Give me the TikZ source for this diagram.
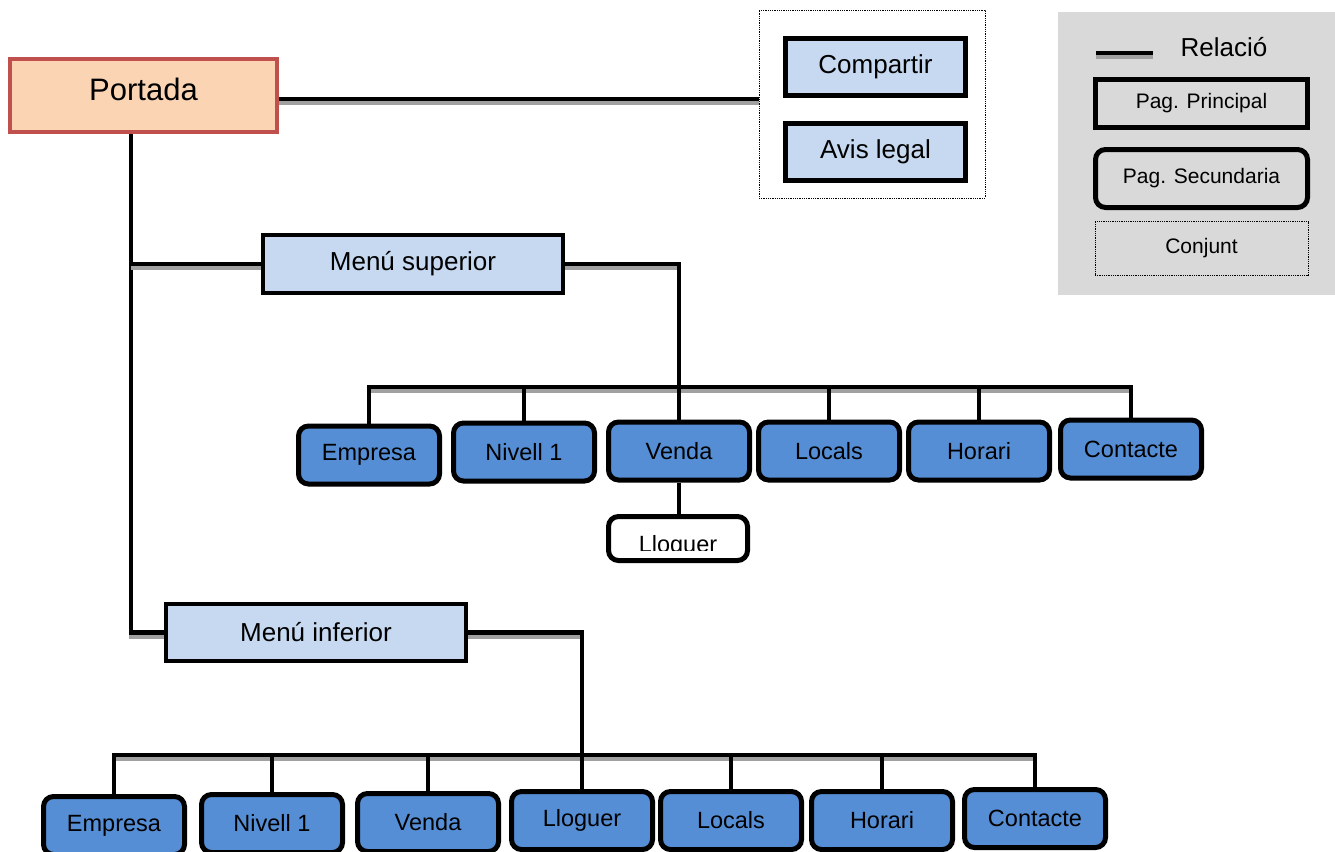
\documentclass[tikz,border=0pt]{standalone}
\usepackage{fontspec}
\setmainfont{Liberation Sans}
\usetikzlibrary{backgrounds}
\definecolor{peach}{HTML}{FBD4B4}
\definecolor{portadared}{HTML}{C0504D}
\definecolor{paleblue}{HTML}{C6D9F1}
\definecolor{midblue}{HTML}{558ED5}
\definecolor{legendgray}{HTML}{D9D9D9}
\definecolor{shadowgray}{HTML}{A0A0A0}
\newcommand{\fsz}[1]{\fontsize{#1pt}{#1pt}\selectfont}

\begin{document}
\begin{tikzpicture}[x=1pt,y=-1pt,
  rel/.style={draw=black, line width=4.5pt,
    preaction={draw=shadowgray, line width=4pt, transform canvas={yshift=-4pt}}},
  pagebox/.style={draw=black, line width=4.5pt, fill=paleblue, inner sep=0pt, font=\fsz{26}},
  subbox/.style={draw=black, line width=5pt, rounded corners=10pt, fill=midblue,
    minimum width=141pt, minimum height=58pt, inner sep=0pt, font=\fsz{23.5}},
  groupbox/.style={draw=black, densely dotted, line width=0.8pt, fill=white, inner sep=0pt},
]
\useasboundingbox (0,0) rectangle (1335,851);
\clip (0,0) rectangle (1335,851);

% legend panel
\node[fill=legendgray, minimum width=277pt, minimum height=283pt, inner sep=0pt] (legend) at (1196.5,153.5) {};
\coordinate (relA) at (1096,53);
\coordinate (relB) at (1153,53);
\draw[rel] (relA) -- (relB);
\node[font=\fsz{26}, inner sep=0pt] (reltext) at (1224,47) {Relació};
\node[draw=black, line width=4.5pt, minimum width=212pt, minimum height=48pt, inner sep=0pt,
  font=\fsz{21}] (lprin) at (1201.5,103.5) {Pag. Principal};
\node[draw=black, line width=5pt, rounded corners=10pt, minimum width=212pt, minimum height=58pt,
  inner sep=0pt, font=\fsz{21}] (lsec) at (1201.5,178.5) {Pag. Secundaria};
\node[draw=black, densely dotted, line width=0.8pt, minimum width=213pt, minimum height=54pt,
  inner sep=0pt, font=\fsz{21}] (lconj) at (1201.5,248.5) {Conjunt};

% home page
\node[draw=portadared, line width=4pt, fill=peach, minimum width=267pt, minimum height=73pt,
  inner sep=0pt, text depth=12pt, font=\fsz{31}] (portada) at (143.5,95.5) {Portada};

% shared pages group
\node[groupbox, minimum width=226pt, minimum height=188pt] (conj) at (872,104) {};
\node[pagebox, line width=5pt, minimum width=180pt, minimum height=57pt] (comp) at (875.5,67) {Compartir};
\node[pagebox, line width=5pt, minimum width=180pt, minimum height=57pt] (avis) at (875.5,152) {Avis legal};

% menus
\node[pagebox, minimum width=300pt, minimum height=58pt] (msup) at (413,264) {Menú superior};
\node[pagebox, minimum width=300pt, minimum height=57pt] (minf) at (316,632.5) {Menú inferior};

% upper menu entries
\node[subbox] (t1) at (369,455) {Empresa};
\node[subbox] (t2) at (524,452) {Nivell 1};
\node[subbox] (t3) at (679,451) {Venda};
\node[subbox] (t4) at (829,451) {Locals};
\node[subbox] (t5) at (979,451) {Horari};
\node[subbox] (t6) at (1131,449) {Contacte};

% sub page of Venda, its label cut by the box
\node[subbox, fill=white, minimum width=139pt, minimum height=44pt] (t3sub) at (678,538.5) {};
\begin{scope}
  \clip (610,519) rectangle (746,550.5);
  \node[font=\fsz{23.5}, anchor=base, inner sep=0pt] (t3subtext) at (678,552.5) {Lloguer};
\end{scope}

% lower menu entries
\node[subbox] (b1) at (114,825.5) {Empresa};
\node[subbox] (b2) at (272,823.5) {Nivell 1};
\node[subbox] (b3) at (428,822.5) {Venda};
\node[subbox] (b4) at (582,820.5) {Lloguer};
\node[subbox] (b5) at (731,820.5) {Locals};
\node[subbox] (b6) at (882,820.5) {Horari};
\node[subbox] (b7) at (1035,818.5) {Contacte};

% relations
\begin{pgfonlayer}{background}
\coordinate (trunk) at (131,0);
\coordinate (topbus) at (0,387);
\coordinate (botbus) at (0,755);
\draw[rel] ([yshift=-3.5pt]portada.east) -- ([yshift=-3.5pt]portada.east -| conj.west);
\draw[rel] (trunk |- portada.south) |- (minf.west);
\draw[rel] (trunk |- msup.west) -- (msup.west);
\draw[rel] (t1.north) -- (t1.north |- topbus) -- (t6.north |- topbus) -- (t6.north);
\foreach \n in {t2,t4,t5} \draw[rel] (\n.north |- topbus) -- (\n.north);
\draw[rel] (msup.east) -| (t3.north);
\draw[rel] (t3.south) -- (t3.south |- t3sub.north);
\draw[rel] (b1.north) -- (b1.north |- botbus) -- (b7.north |- botbus) -- (b7.north);
\foreach \n in {b2,b3,b5,b6} \draw[rel] (\n.north |- botbus) -- (\n.north);
\draw[rel] (minf.east) -| (b4.north);
\end{pgfonlayer}
\end{tikzpicture}
\end{document}
